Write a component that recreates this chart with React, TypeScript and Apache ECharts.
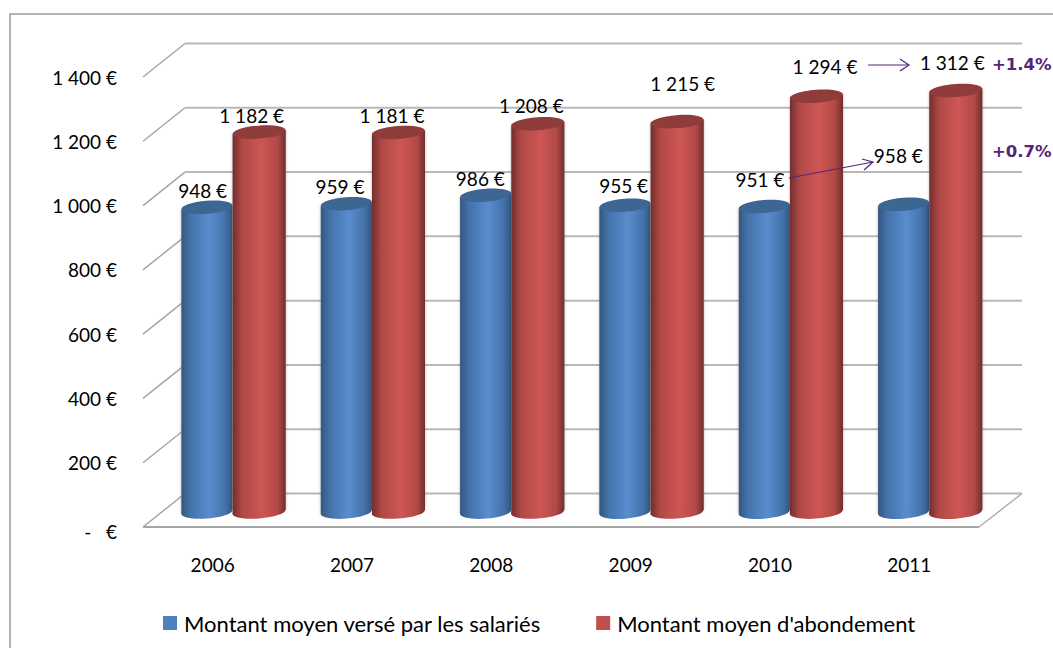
import React, { useEffect, useRef } from "react";
import * as echarts from "echarts";

const categories = ["2006", "2007", "2008", "2009", "2010", "2011"];
const salaries = [948, 959, 986, 955, 951, 958];
const abondement = [1182, 1181, 1208, 1215, 1294, 1312];
const gridValues = [0, 200, 400, 600, 800, 1000, 1200, 1400];
const yTickLabels: Record<number, string> = {
  0: "{zero|-   €}", 200: "200 €", 400: "400 €", 600: "600 €", 800: "800 €",
  1000: "1 000 €", 1200: "1 200 €", 1400: "1 400 €",
};
const seriesNames = ["Montant moyen versé par les salariés", "Montant moyen d'abondement"];

// label placement relative to the data point on the front plane
const blueLabelOffsets = [[-10, -32], [-12, -32], [-11, -32], [-7, -35], [-10, -42], [-11, -64]];
const redLabelOffsets = [[39, -32], [40, -32], [40, -33], [52, -53], [55, -45], [43, -43]];

const DEPTH_X = 42;
const DEPTH_Y = -33.5;
const FONT = "Lato, Carlito, sans-serif";
const PURPLE = "#552578";

const fmt = (v: number) => (v >= 1000 ? `${Math.floor(v / 1000)} ${String(v % 1000).padStart(3, "0")} €` : `${v} €`);

function cylinder(xOffset: number, rx: number, stops: string[], topColor: string, labelOffsets: number[][]) {
  return (params: any, a: any) => {
    const idx = a.value(0);
    const val = a.value(1);
    const top = a.coord([idx, val]);
    const base = a.coord([idx, 0]);
    const cx = top[0] + xOffset;
    const yTop = top[1] - 15;
    const yBase = base[1] - 15;
    const tilt = 2;
    const ry = 6.5;
    const rot = Math.atan2(tilt, rx);
    const fill = new echarts.graphic.LinearGradient(0, 0, 1, 0, [
      { offset: 0, color: stops[0] },
      { offset: 0.18, color: stops[1] },
      { offset: 0.55, color: stops[2] },
      { offset: 0.85, color: stops[1] },
      { offset: 1, color: stops[0] },
    ]);
    const pts = [[cx - rx, yBase + tilt], [cx - rx, yTop + tilt], [cx + rx, yTop - tilt], [cx + rx, yBase - tilt]];
    const off = labelOffsets[params.dataIndex];
    const halo = { fill: "#999", shadowBlur: 3, shadowColor: "rgba(0,0,0,0.3)" };
    return {
      type: "group",
      children: [
        { type: "polygon", shape: { points: pts }, style: halo },
        { type: "ellipse", shape: { cx, cy: yBase, rx, ry }, originX: cx, originY: yBase, rotation: rot, style: { fill } },
        { type: "polygon", shape: { points: pts }, style: { fill } },
        { type: "ellipse", shape: { cx, cy: yTop, rx, ry }, originX: cx, originY: yTop, rotation: rot, style: { fill: topColor } },
        {
          type: "text",
          z2: 50,
          style: {
            text: fmt(val), x: top[0] + off[0], y: top[1] + off[1],
            textAlign: "center", textVerticalAlign: "middle",
            fill: "#000", font: `19px ${FONT}`,
          },
        },
      ],
    };
  };
}

export default function App() {
  const ref = useRef<HTMLDivElement>(null);
  useEffect(() => {
    document.body.style.margin = "0";
    const chart = echarts.init(ref.current!, null, { renderer: "svg" });
    chart.setOption({
      animation: false,
      backgroundColor: "#fff",
      grid: { left: 143, right: 74, top: 77, bottom: 121 },
      xAxis: {
        type: "category", data: categories,
        axisLine: { show: false }, axisTick: { show: false },
        axisLabel: { color: "#000", fontSize: 19, fontFamily: FONT, margin: 28 },
      },
      yAxis: {
        type: "value", min: 0, max: 1400, interval: 200,
        axisLine: { show: false }, axisTick: { show: false }, splitLine: { show: false },
        axisLabel: {
          color: "#000", fontSize: 19, fontFamily: FONT, margin: 26,
          formatter: (v: number) => yTickLabels[v],
          rich: { zero: { color: "#000", fontSize: 19, fontFamily: FONT, padding: [8, 0, 0, 0] } },
        },
      },
      legend: {
        data: seriesNames, left: 163, top: 612, icon: "rect", padding: 0,
        itemWidth: 14, itemHeight: 14, itemGap: 55,
        textStyle: { color: "#000", fontSize: 22, fontFamily: FONT, padding: [0, 0, 0, 2] },
      },
      graphic: [
        { type: "polyline", z: 20, shape: { points: [[10, 648], [10, 14], [1053, 14]] }, style: { stroke: "#9a9a9a", lineWidth: 1.5, fill: "none" } },
        { type: "line", z: 20, shape: { x1: 868, y1: 65, x2: 909, y2: 65 }, style: { stroke: PURPLE, lineWidth: 1.2 } },
        { type: "polyline", z: 20, shape: { points: [[900, 59], [909, 65], [900, 71]] }, style: { stroke: PURPLE, lineWidth: 1.2, fill: "none" } },
        { type: "line", z: 20, shape: { x1: 789, y1: 178, x2: 873, y2: 162 }, style: { stroke: PURPLE, lineWidth: 1.2 } },
        { type: "polyline", z: 20, shape: { points: [[862, 159], [873, 162], [864, 170]] }, style: { stroke: PURPLE, lineWidth: 1.2, fill: "none" } },
        { type: "text", z: 20, x: 992, y: 64, style: { text: "+1.4%", fill: PURPLE, font: "bold 16.5px 'DejaVu Sans'", textVerticalAlign: "middle" } },
        { type: "text", z: 20, x: 992, y: 151, style: { text: "+0.7%", fill: PURPLE, font: "bold 16.5px 'DejaVu Sans'", textVerticalAlign: "middle" } },
      ],
      series: [
        {
          type: "custom", name: "grid", silent: true, z: 1,
          data: gridValues.map((v) => [0, v]),
          encode: { x: 0, y: 1 },
          renderItem: (params: any, a: any) => {
            const cs = params.coordSys;
            const v = a.value(1);
            const y = a.coord([0, v])[1];
            const left = cs.x;
            const right = cs.x + cs.width;
            const children: any[] = [
              { type: "line", shape: { x1: left, y1: y, x2: left + DEPTH_X, y2: y + DEPTH_Y }, style: { stroke: "#a6a6a6", lineWidth: 1.5 } },
              { type: "line", shape: { x1: left + DEPTH_X, y1: y + DEPTH_Y, x2: right + DEPTH_X + 1, y2: y + DEPTH_Y }, style: { stroke: "#b8b8b8", lineWidth: 2 } },
            ];
            if (v === 0) {
              children.push(
                { type: "line", shape: { x1: left, y1: y, x2: right, y2: y }, style: { stroke: "#a6a6a6", lineWidth: 2 } },
                { type: "line", shape: { x1: right, y1: y, x2: right + DEPTH_X + 1, y2: y + DEPTH_Y }, style: { stroke: "#b0b0b0", lineWidth: 1.5 } }
              );
            }
            return { type: "group", children };
          },
        },
        {
          type: "custom", name: seriesNames[0], z: 3,
          itemStyle: { color: "#4f81bd" },
          data: salaries.map((v, i) => [i, v]),
          encode: { x: 0, y: 1 },
          renderItem: cylinder(-5.7, 25.5, ["#33587f", "#4473ab", "#5a8dce"], "#3d6792", blueLabelOffsets),
        },
        {
          type: "custom", name: seriesNames[1], z: 4,
          itemStyle: { color: "#c0504d" },
          data: abondement.map((v, i) => [i, v]),
          encode: { x: 0, y: 1 },
          renderItem: cylinder(46.5, 26.5, ["#722e2d", "#b04946", "#cf5654"], "#8f3c3a", redLabelOffsets),
        },
      ],
    });
    return () => chart.dispose();
  }, []);
  return <div ref={ref} style={{ position: "fixed", left: 0, top: 0, width: 1053, height: 648 }} />;
}
